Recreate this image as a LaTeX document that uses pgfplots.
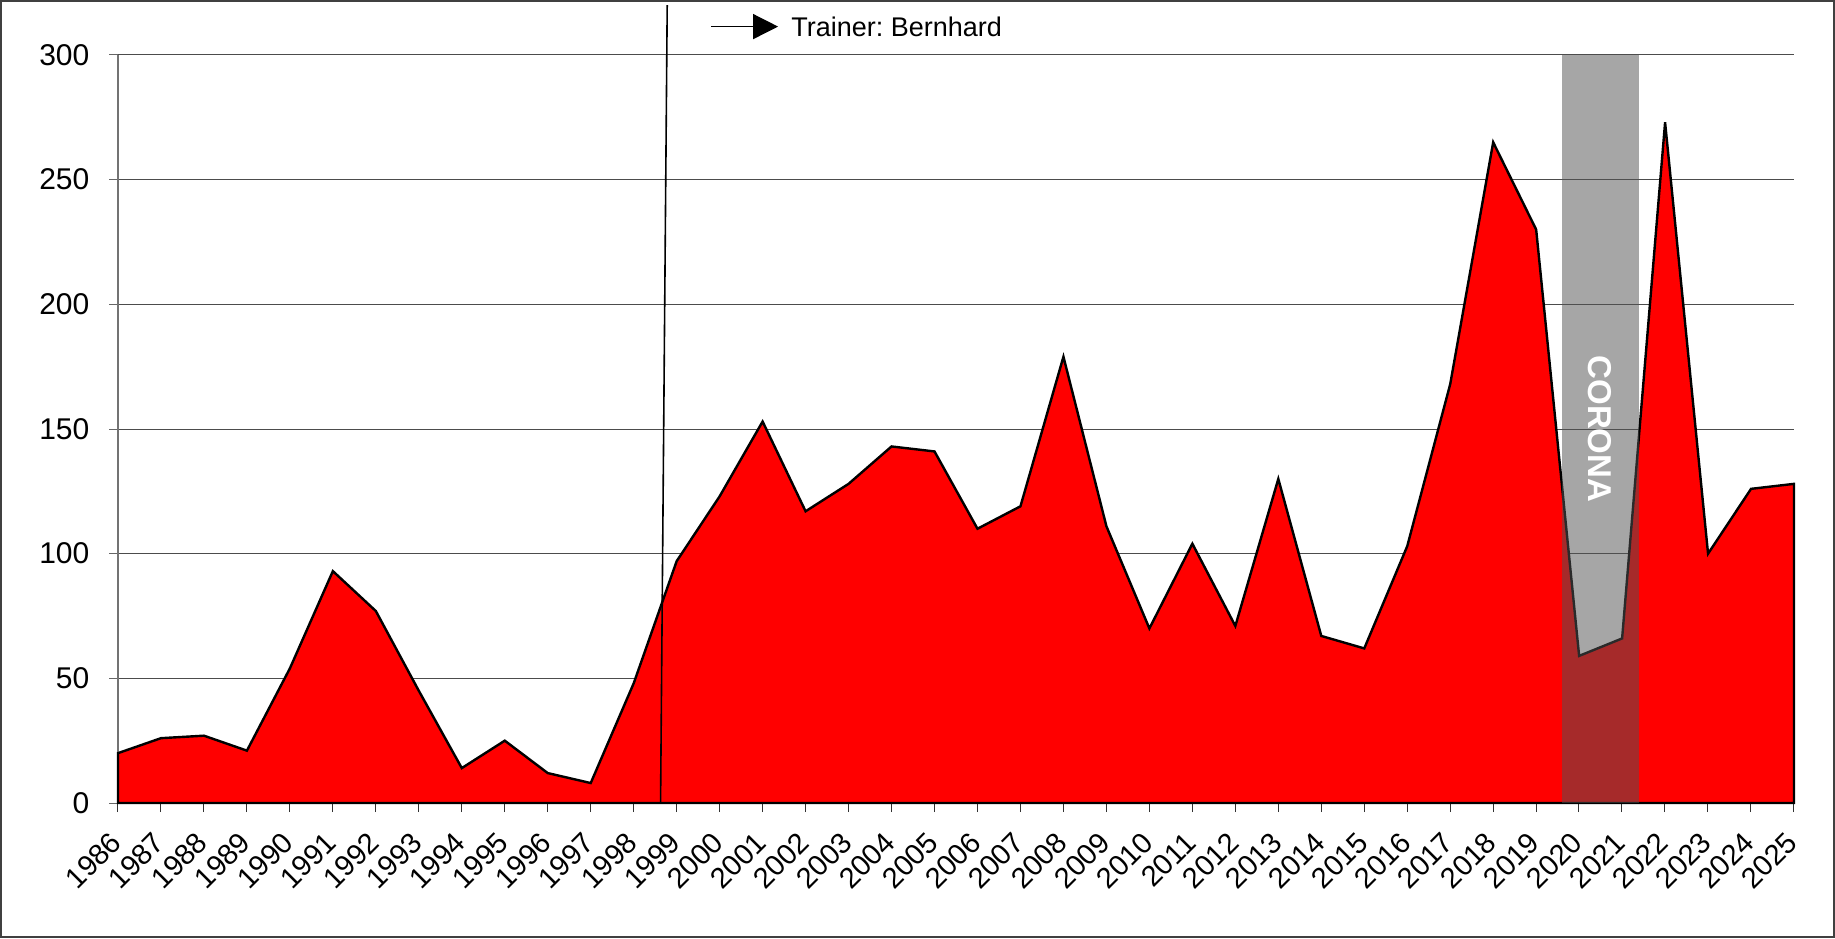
\documentclass[border=0pt]{standalone}
\usepackage{pgfplots}
\pgfplotsset{compat=1.18}
\usepackage{pgfplotstable}
\usepackage{fontspec}
\setmainfont{Liberation Sans}
\usetikzlibrary{arrows.meta}

\pgfplotstableread{
year val
1986 20
1987 26
1988 27
1989 21
1990 54
1991 93
1992 77
1993 45
1994 14
1995 25
1996 12
1997 8
1998 48
1999 97
2000 123
2001 153
2002 117
2003 128
2004 143
2005 141
2006 110
2007 119
2008 179
2009 111
2010 70
2011 104
2012 71
2013 130
2014 67
2015 62
2016 103
2017 168
2018 265
2019 230
2020 59
2021 66
2022 273
2023 100
2024 126
2025 128
}\datatable

\begin{document}
\frenchspacing
\begin{tikzpicture}
\begin{axis}[
  at={(0,0)}, anchor=south west,
  width=838pt, height=374pt, scale only axis,
  xmin=1986, xmax=2025, ymin=0, ymax=300,
  clip=false,
  axis lines*=left,
  x axis line style={black, line width=0.6pt},
  y axis line style={black!55, line width=0.6pt},
  xtick={1986,...,2025},
  ytick={0,50,...,300},
  ymajorgrids,
  grid style={black!70, line width=0.5pt},
  tick align=outside,
  major tick length=4.5pt,
  xtick style={black!80, line width=0.5pt},
  ytick style={black!60, line width=0.5pt},
  /pgf/number format/assume math mode=true,
  /pgf/number format/1000 sep={},
  yticklabel style={font=\fontsize{15}{18}\selectfont, xshift=-6.3pt},
  xticklabel style={font=\fontsize{14.5}{17}\selectfont, xshift=-4.5pt, yshift=-7.5pt, rotate=45, anchor=north east, inner sep=1pt},
]
% main area
\addplot[fill=red, draw=black, line width=1.2pt, line join=miter] table[x=year, y=val] {\datatable} \closedcycle;
% corona band
\addplot[draw=none, fill={rgb,255:red,82;green,82;blue,82}, fill opacity=0.514]
  coordinates {(2019.6,0) (2019.6,300) (2021.39,300) (2021.39,0)} -- cycle;
\node[rotate=-90, text=white, font=\bfseries\fontsize{16.5}{18}\selectfont]
  at (axis cs:2020.49,150) {CORONA};
% trainer line
\addplot[black, line width=0.8pt] coordinates {(1998.625,0) (1998.78,320)};
% legend arrow
\draw[black, line width=0.7pt, -{Triangle[length=12.5pt,width=12.5pt]}]
  (axis cs:1999.8,311.4) -- (axis cs:2001.36,311.4);
\node[anchor=west, inner sep=0pt, font=\fontsize{13.5}{16}\selectfont]
  at (axis cs:2001.66,311.4) {Trainer: Bernhard};
\end{axis}
\draw[black!75, line width=0.8pt] (-58.6pt,-67.1pt) rectangle (858.1pt,401.1pt);
\end{tikzpicture}
\end{document}
